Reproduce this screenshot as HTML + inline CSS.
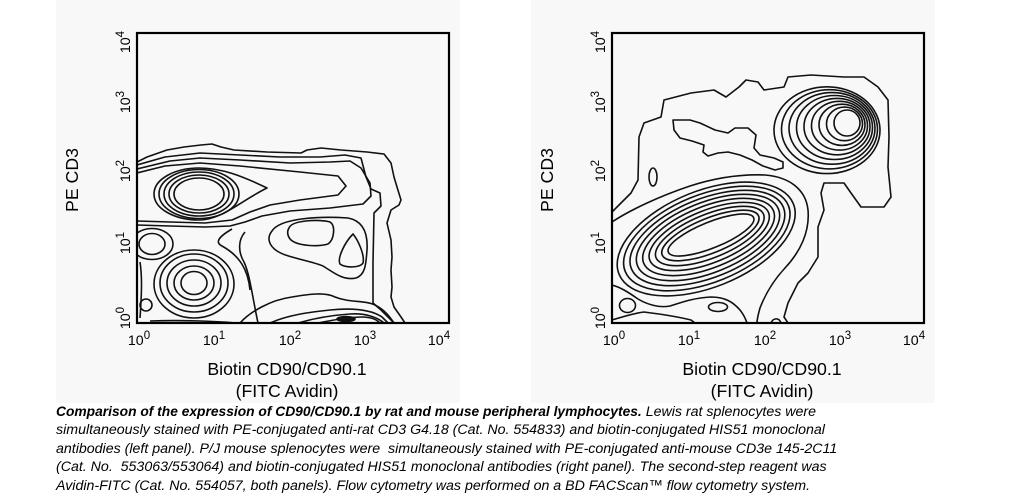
<!DOCTYPE html>
<html><head><meta charset="utf-8"><style>
html,body{margin:0;padding:0;background:#fff;}
body{width:1020px;height:503px;position:relative;overflow:hidden;}
svg{position:absolute;left:0;top:0;}
.cap{position:absolute;left:56px;top:403px;font-family:"Liberation Sans",Arial,sans-serif;font-style:italic;font-size:14.2px;line-height:18.4px;color:#000;white-space:pre;}
.cap b{font-weight:bold;font-size:13.8px;}
</style></head><body>
<svg width="1020" height="503" viewBox="0 0 1020 503" xmlns="http://www.w3.org/2000/svg">
<rect x="56" y="0" width="404" height="403" fill="#f8f8f8"/>
<rect x="531" y="0" width="404" height="403" fill="#f8f8f8"/>
<defs>
<clipPath id="cl"><rect x="137" y="33" width="312" height="290"/></clipPath>
<clipPath id="cr"><rect x="612" y="33" width="312" height="290"/></clipPath>
</defs>

<!-- LEFT PLOT CONTOURS -->
<g clip-path="url(#cl)" fill="none" stroke="#111" stroke-width="1.6" stroke-linejoin="round">
<path d="M137,162 L147,157 L167,150 L184,147 L201,145 L212,144 L221,147 L234,150 L267,152 L301,153 L307,150 L321,148 L341,150 L367,152 L384,154 L391,163 L394,177 L397,187 L401,200 L399,205 L391,210 L387,223 L391,240 L392,257 L391,270 L392,287 L391,297 L394,307 L401,317 L405,323"/>
<path d="M137,165 L165,157 L200,153 L240,155 L280,157 L320,157 L345,155 L361,158 L366,177 L371,189 L380,193 L381,206 L374,213 L373,263 L373,303 L381,310 L394,323"/>
<path d="M137,169 L170,161 L200,158 L240,160 L290,163 L330,162 L350,161 L361,168 L370,183 L371,196 L363,204 L330,208 L290,211 L262,216 L245,222 L230,226 L205,227 L170,226 L137,225"/>
<path d="M137,173 L165,166 L200,163 L240,166 L300,172 L338,176 L346,186 L338,195 L300,200 L270,205 L250,212 L232,220 L205,223 L170,222 L137,221"/>
<path d="M154,194 C154,179 175,168 199,168 C222,168 242,176 267,188 C242,200 222,220 199,220 C175,220 154,209 154,194 Z"/>
<ellipse cx="199" cy="194" rx="40" ry="24.5"/>
<ellipse cx="199" cy="194" rx="35" ry="22"/>
<ellipse cx="199" cy="194" rx="30" ry="19"/>
<ellipse cx="199" cy="194" rx="25" ry="16"/>
<!-- left small blob -->
<ellipse cx="152" cy="244" rx="13" ry="10.5"/>
<ellipse cx="152" cy="244" rx="21" ry="15.5"/>
<!-- lower-left blob -->
<ellipse cx="194" cy="283" rx="13" ry="11.5"/>
<ellipse cx="194" cy="283" rx="20" ry="17"/>
<ellipse cx="194" cy="283" rx="27" ry="23"/>
<ellipse cx="194" cy="283" rx="34" ry="29"/>
<ellipse cx="194" cy="284" rx="40" ry="34"/>
<path d="M245,232 C238,240 238,252 244,262 C250,275 252,295 258,323"/>
<path d="M232,229 C220,236 214,242 222,246 C240,256 248,270 250,290"/>
<circle cx="146" cy="305" r="6"/>
<path d="M140,262 C142,275 142,290 140,318"/>
<!-- mid-right -->
<path d="M289,228 C292,220 320,219 330,222 C336,226 334,240 328,244 C318,247 298,246 291,240 C287,236 287,231 289,228 Z"/>
<path d="M353,234 C358,240 365,255 363,263 C360,268 345,268 340,264 C337,258 345,242 353,234 Z"/>
<path d="M272,231 C280,218 320,216 348,218 C364,221 368,234 367,250 C366,265 365,275 356,278 C343,281 333,272 323,266 C308,260 288,258 277,251 C268,245 267,237 272,231 Z"/>
<!-- bottom-right dense -->
<path d="M240,323 C250,312 270,300 292,297 C310,294 325,292 335,297 C350,303 365,300 375,305 C385,310 390,317 394,323"/>
<path d="M270,323 C288,315 310,312 330,310 C350,308 370,309 382,317 L388,323"/>
<path d="M298,323 C315,318 335,315 350,314 C365,313 377,317 384,323"/>
<path d="M318,323 C333,320 350,317 362,317 C372,317 377,320 380,323"/>
<path d="M150,321 C180,320 215,321 236,323"/>
<ellipse cx="346" cy="319" rx="9" ry="2.5" fill="#111"/>
</g>
<rect x="137" y="33" width="312" height="290" fill="none" stroke="#000" stroke-width="2.2"/>

<!-- RIGHT PLOT CONTOURS -->
<g clip-path="url(#cr)" fill="none" stroke="#111" stroke-width="1.6" stroke-linejoin="round">
<path d="M612,212 L621,203 L631,193 L638,180 L639,137 L644,123 L661,117 L664,100 L691,93 L714,90 L726,97 L739,87 L746,80 L758,82 L764,90 L784,87 L788,77 L811,75 L844,77 L864,77 L878,87 L888,100 L889,137 L888,167 L891,197 L884,207 L861,207 L851,193 L844,183 L824,183 L821,193 L824,210 L818,227 L818,257 L808,273 L798,283 L788,303 L784,317 L788,323"/>
<path d="M673,120 L690,120 L700,123 L715,130 L728,133 L735,128 L748,128 L756,135 L754,148 L760,155 L774,158 L783,162 L783,168 L775,170 L763,166 L752,160 L740,155 L728,152 L718,153 L708,156 L703,152 L704,145 L692,141 L680,138 L674,130 Z"/>
<ellipse cx="653" cy="177" rx="4" ry="9"/>
<!-- lower blob rings -->
<g transform="rotate(-22 711 235)"><ellipse cx="711" cy="235" rx="46" ry="13"/></g>
<g transform="rotate(-22 710.4 235.5)"><ellipse cx="710.4" cy="235.5" rx="52" ry="17.4"/></g>
<g transform="rotate(-22 709.8 236)"><ellipse cx="709.8" cy="236" rx="58" ry="21.8"/></g>
<g transform="rotate(-22 709.2 236.5)"><ellipse cx="709.2" cy="236.5" rx="64" ry="26.2"/></g>
<g transform="rotate(-22 708.6 237)"><ellipse cx="708.6" cy="237" rx="70" ry="30.6"/></g>
<g transform="rotate(-22 708 237.5)"><ellipse cx="708" cy="237.5" rx="76" ry="35"/></g>
<g transform="rotate(-22 707.4 238)"><ellipse cx="707.4" cy="238" rx="82" ry="39.4"/></g>
<g transform="rotate(-22 706.8 238.5)"><ellipse cx="706.8" cy="238.5" rx="88" ry="43.8"/></g>
<g transform="rotate(-22 706.2 239)"><ellipse cx="706.2" cy="239" rx="94" ry="48.2"/></g>
<path d="M612,222 C630,210 660,196 690,186 C715,178 740,174 765,175 C790,177 806,190 808,210 C810,232 800,252 785,268 C772,282 765,295 760,308 C758,315 757,320 757,323"/>
<!-- upper-right peak rings -->
<ellipse cx="847" cy="123" rx="13" ry="13"/>
<ellipse cx="844.5" cy="123.9" rx="18" ry="16.8"/>
<ellipse cx="842" cy="124.8" rx="23" ry="20.6"/>
<ellipse cx="839.5" cy="125.7" rx="28" ry="24.4"/>
<ellipse cx="837" cy="126.6" rx="33" ry="28.2"/>
<ellipse cx="834.5" cy="127.5" rx="38" ry="32"/>
<ellipse cx="832" cy="128.4" rx="43" ry="35.8"/>
<ellipse cx="829.5" cy="129.3" rx="48" ry="39.6"/>
<ellipse cx="827" cy="130.2" rx="53" ry="43.4"/>
<!-- bottom -->
<ellipse cx="627.5" cy="305.5" rx="8" ry="7"/>
<ellipse cx="718" cy="307" rx="9.5" ry="4.5"/>
<path d="M612,285 C620,287 628,292 638,299 C648,305 660,308 670,306 C680,303 692,298 711,297 C725,297 733,302 740,310 C744,315 746,320 747,323"/>
<path d="M612,320 C625,316 635,313 644,312 C660,314 675,316 691,320 L695,323"/>
<path d="M771,323 C773,318 779,317 781,323"/>
</g>
<rect x="612" y="33" width="312" height="290" fill="none" stroke="#000" stroke-width="2.2"/>

<!-- AXES TEXT -->
<g font-family="Liberation Sans, Arial, sans-serif" fill="#000">
<g font-size="14.2" text-anchor="middle">
<text x="139" y="345">10<tspan font-size="11.5" dy="-6">0</tspan></text>
<text x="214" y="345">10<tspan font-size="11.5" dy="-6">1</tspan></text>
<text x="290" y="345">10<tspan font-size="11.5" dy="-6">2</tspan></text>
<text x="365" y="345">10<tspan font-size="11.5" dy="-6">3</tspan></text>
<text x="439" y="345">10<tspan font-size="11.5" dy="-6">4</tspan></text>
<text transform="translate(130,42) rotate(-90)">10<tspan font-size="11.5" dy="-6">4</tspan></text>
<text transform="translate(130,102) rotate(-90)">10<tspan font-size="11.5" dy="-6">3</tspan></text>
<text transform="translate(130,171) rotate(-90)">10<tspan font-size="11.5" dy="-6">2</tspan></text>
<text transform="translate(130,243) rotate(-90)">10<tspan font-size="11.5" dy="-6">1</tspan></text>
<text transform="translate(130,318) rotate(-90)">10<tspan font-size="11.5" dy="-6">0</tspan></text>

<text x="614" y="345">10<tspan font-size="11.5" dy="-6">0</tspan></text>
<text x="689" y="345">10<tspan font-size="11.5" dy="-6">1</tspan></text>
<text x="765" y="345">10<tspan font-size="11.5" dy="-6">2</tspan></text>
<text x="840" y="345">10<tspan font-size="11.5" dy="-6">3</tspan></text>
<text x="914" y="345">10<tspan font-size="11.5" dy="-6">4</tspan></text>
<text transform="translate(605,42) rotate(-90)">10<tspan font-size="11.5" dy="-6">4</tspan></text>
<text transform="translate(605,102) rotate(-90)">10<tspan font-size="11.5" dy="-6">3</tspan></text>
<text transform="translate(605,171) rotate(-90)">10<tspan font-size="11.5" dy="-6">2</tspan></text>
<text transform="translate(605,243) rotate(-90)">10<tspan font-size="11.5" dy="-6">1</tspan></text>
<text transform="translate(605,318) rotate(-90)">10<tspan font-size="11.5" dy="-6">0</tspan></text>
</g>
<g font-size="17.7" text-anchor="middle">
<text transform="translate(78,180) rotate(-90)">PE CD3</text>
<text x="287" y="375">Biotin CD90/CD90.1</text>
<text x="287" y="397">(FITC Avidin)</text>
<text transform="translate(553,180) rotate(-90)">PE CD3</text>
<text x="762" y="375">Biotin CD90/CD90.1</text>
<text x="762" y="397">(FITC Avidin)</text>
</g>
</g>
</svg>
<div class="cap"><b>Comparison of the expression of CD90/CD90.1 by rat and mouse peripheral lymphocytes.</b> Lewis rat splenocytes were
simultaneously stained with PE-conjugated anti-rat CD3 G4.18 (Cat. No. 554833) and biotin-conjugated HIS51 monoclonal
antibodies (left panel). P/J mouse splenocytes were  simultaneously stained with PE-conjugated anti-mouse CD3e 145-2C11
(Cat. No.  553063/553064) and biotin-conjugated HIS51 monoclonal antibodies (right panel). The second-step reagent was
Avidin-FITC (Cat. No. 554057, both panels). Flow cytometry was performed on a BD FACScan™ flow cytometry system.</div>
</body></html>
